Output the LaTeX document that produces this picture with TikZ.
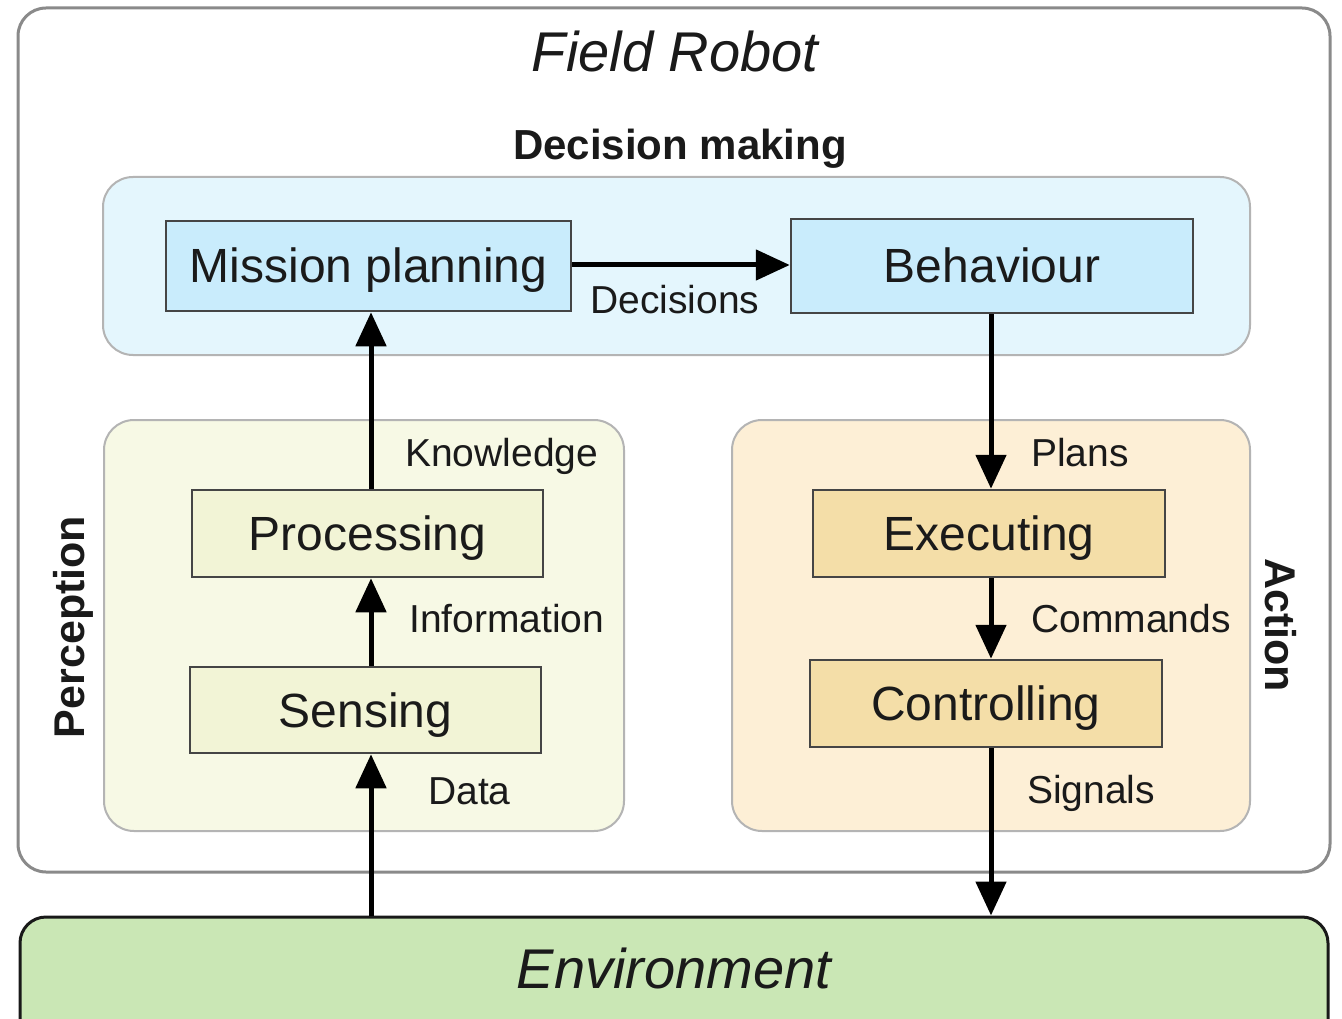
\documentclass[tikz,border=0pt]{standalone}
\usepackage{fontspec}
\setmainfont{Liberation Sans}
\usetikzlibrary{arrows.meta}
\definecolor{outerline}{HTML}{8A8A8A}
\definecolor{groupline}{HTML}{B4B4B4}
\definecolor{boxline}{HTML}{454545}
\definecolor{decfill}{HTML}{E4F6FD}
\definecolor{bluebox}{HTML}{C9ECFC}
\definecolor{perfill}{HTML}{F7F9E5}
\definecolor{perbox}{HTML}{F2F4D6}
\definecolor{actfill}{HTML}{FDEFD6}
\definecolor{actbox}{HTML}{F4DEA8}
\definecolor{envfill}{HTML}{CAE7B5}
\definecolor{txt}{HTML}{1A1A1A}
\begin{document}
\begin{tikzpicture}[x=1pt,y=-1pt,
  group/.style={draw=groupline, line width=2pt, rounded corners=30pt, inner sep=0pt},
  stagebox/.style={draw=boxline, line width=2.5pt, inner sep=0pt, text=txt,
     text height=34pt, text depth=0pt,
     font=\fontsize{48}{56}\selectfont},
  lbl/.style={inner sep=0pt, anchor=west, text=txt, text height=28pt, text depth=0pt,
     font=\fontsize{39}{46}\selectfont},
  arr/.style={line width=5pt, -{Triangle[length=34pt,width=30pt]}},
  plain/.style={line width=5pt}]
\useasboundingbox (0,0) rectangle (1342,1019);
\clip (0,0) rectangle (1342,1019);
% outer robot box
\node[draw=outerline, line width=3pt, fill=white, rounded corners=28pt,
      minimum width=1312pt, minimum height=864pt] (robot) at (674,440) {};
\node[inner sep=0pt, font=\fontsize{56}{64}\selectfont\itshape, text=txt,
      text height=40pt, text depth=0pt] (robottitle) at (675,52) {Field Robot};
% groups
\node[group, fill=decfill, minimum width=1147pt, minimum height=178pt] (dec) at (676.5,266) {};
\node[inner sep=0pt, font=\fontsize{42}{50}\selectfont\bfseries, text=txt,
      text height=30pt, text depth=0pt] (dectitle) at (680,145) {Decision making};
\node[group, fill=perfill, minimum width=520pt, minimum height=411pt] (per) at (364,625.5) {};
\node[group, fill=actfill, minimum width=518pt, minimum height=411pt] (act) at (991,625.5) {};
\node[inner sep=0pt, rotate=90, font=\fontsize{43}{50}\selectfont\bfseries, text=txt] (pertitle) at (73,627) {Perception};
\node[inner sep=0pt, rotate=-90, font=\fontsize{43}{50}\selectfont\bfseries, text=txt] (acttitle) at (1281,625) {Action};
% stage boxes
\node[stagebox, fill=bluebox, minimum width=405pt, minimum height=90pt] (mission) at (368.5,266) {Mission planning};
\node[stagebox, fill=bluebox, minimum width=402pt, minimum height=94pt] (behav) at (992,266) {Behaviour};
\node[stagebox, fill=perbox, minimum width=351pt, minimum height=87pt] (proc) at (367.5,533.5) {Processing};
\node[stagebox, fill=perbox, minimum width=351pt, minimum height=86pt] (sens) at (365.5,710) {Sensing};
\node[stagebox, fill=actbox, minimum width=352pt, minimum height=87pt] (exec) at (989,533.5) {Executing};
\node[stagebox, fill=actbox, minimum width=352pt, minimum height=87pt] (ctrl) at (986,703.5) {Controlling};
% environment
\node[draw=black!90, line width=3pt, fill=envfill, rounded corners=26pt,
      minimum width=1308pt, minimum height=160pt, inner sep=0pt] (env) at (674,997) {};
\node[inner sep=0pt, font=\fontsize{56}{64}\selectfont\itshape, text=txt,
      text height=40pt, text depth=0pt] (envtext) at (674,968) {Environment};
% columns for vertical arrows
\coordinate (cL) at (371,0);
\coordinate (cR) at (991,0);
% connectors
\draw[arr] (env.north -| cL) -- (sens.south -| cL);
\draw[arr] (sens.north -| cL) -- (proc.south -| cL);
\draw[arr] (proc.north -| cL) -- (mission.south -| cL);
\draw[arr] (mission.east |- 0,265) -- (behav.west |- 0,265);
\draw[arr] (behav.south -| cR) -- (exec.north -| cR);
\draw[arr] (exec.south -| cR) -- (ctrl.north -| cR);
\draw[arr] (ctrl.south -| cR) -- (env.north -| cR);
% labels
\node[lbl] (lknow) at (405,452) {Knowledge};
\node[lbl] (linfo) at (409,618) {Information};
\node[lbl] (ldata) at (428,790) {Data};
\node[lbl] (ldec) at (590,299) {Decisions};
\node[lbl] (lplans) at (1031,452) {Plans};
\node[lbl] (lcmd) at (1031,618) {Commands};
\node[lbl] (lsig) at (1027,789) {Signals};
\end{tikzpicture}
\end{document}
